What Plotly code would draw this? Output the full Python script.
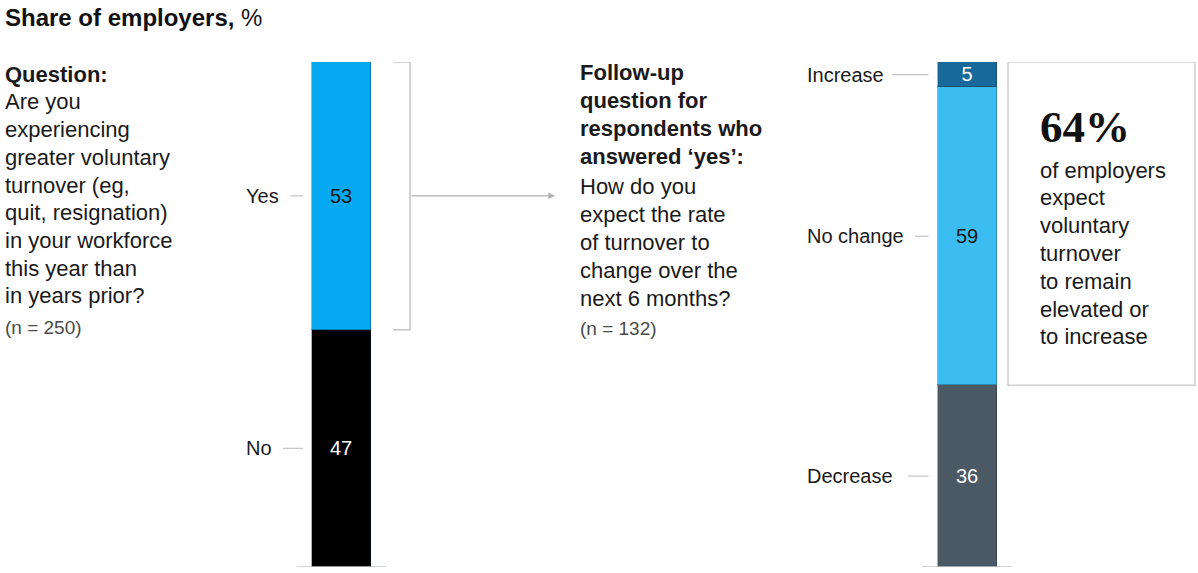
import plotly.graph_objects as go

# ---- data -------------------------------------------------------------
left_categories = ["No", "Yes"]
left_values = [47, 53]
right_categories = ["Decrease", "No change", "Increase"]
right_values = [36, 59, 5]
left_n = 250
right_n = 132

# ---- styling ------------------------------------------------------------
W, H = 1198, 573
SANS = "Liberation Sans, Arial, sans-serif"
SERIF = "Liberation Serif, Times New Roman, serif"
INK = "#1a1a1a"
RULE = "#c4c4c4"

left_colors = ["#000000", "#04a9f1"]
left_text_colors = ["#ffffff", "#1a1a1a"]
right_colors = ["#4b5965", "#3bbdf1", "#17699a"]
right_text_colors = ["#ffffff", "#1a1a1a", "#ffffff"]

LEFT_X, RIGHT_X, BAR_W = 341.5, 967, 59
# start of the connector line after each category label
left_conn_start = {"Yes": 290, "No": 283}
right_conn_start = {"Increase": 892, "No change": 915, "Decrease": 908}


def py(y):
    """pixel row -> paper fraction"""
    return 1 - y / H


fig = go.Figure()


def add_stack(xpos, cats, vals, colors, tcolors):
    for c, v, col, tc in zip(cats, vals, colors, tcolors):
        fig.add_trace(go.Bar(
            x=[xpos], y=[v], width=BAR_W, name=c,
            marker=dict(color=col, line=dict(color="rgba(20,35,50,0.35)", width=1)),
            text=[str(v)], textposition="inside", insidetextanchor="middle",
            textangle=0, constraintext="none",
            textfont=dict(family=SANS, size=20, color=tc),
            hoverinfo="skip", showlegend=False,
        ))


add_stack(LEFT_X, left_categories, left_values, left_colors, left_text_colors)
add_stack(RIGHT_X, right_categories, right_values, right_colors, right_text_colors)

shapes = []
annotations = []


def label_block(xpos, cats, vals, label_x, conn_start):
    cum = 0
    for c, v in zip(cats, vals):
        mid = cum + v / 2
        cum += v
        annotations.append(dict(
            x=label_x, y=mid, xref="x", yref="y", text=c, showarrow=False,
            xanchor="left", yanchor="middle",
            font=dict(family=SANS, size=20, color=INK)))
        shapes.append(dict(
            type="line", xref="x", yref="y",
            x0=conn_start[c], x1=xpos - BAR_W / 2 - 9, y0=mid, y1=mid,
            line=dict(color=RULE, width=1.2)))
    # baseline tick under the bar
    shapes.append(dict(type="line", xref="x", yref="y",
                       x0=xpos - 45, x1=xpos + 45, y0=0, y1=0,
                       line=dict(color=RULE, width=1.5)))


label_block(LEFT_X, left_categories, left_values, 244, left_conn_start)
label_block(RIGHT_X, right_categories, right_values, 805, right_conn_start)

# bracket around the "Yes" share and arrow to the follow-up question
yes_top = sum(left_values)
yes_bottom = left_values[0]
yes_mid = yes_bottom + left_values[1] / 2
shapes.append(dict(
    type="path", xref="x", yref="y",
    path=f"M 393,{yes_top} L 410,{yes_top} L 410,{yes_bottom} L 393,{yes_bottom}",
    line=dict(color=RULE, width=1.5)))
annotations.append(dict(
    x=555, y=yes_mid, ax=410, ay=yes_mid, xref="x", yref="y",
    axref="x", ayref="y", text="", showarrow=True,
    arrowhead=2, arrowsize=1.1, arrowwidth=1.2, arrowcolor="#b0b0b0", standoff=0))

# callout box spanning "No change" + "Increase"
elevated = right_values[1] + right_values[2]
shapes.append(dict(
    type="rect", xref="x", yref="y",
    x0=1008, x1=1195, y0=right_values[0], y1=sum(right_values),
    line=dict(color="#cfcfcf", width=1.5), fillcolor="rgba(0,0,0,0)"))


def text_lines(x, lines, y0, step, size=22, bold=False, color=INK):
    for i, t in enumerate(lines):
        annotations.append(dict(
            x=x, y=py(y0 + i * step), xref="x", yref="paper",
            text=f"<b>{t}</b>" if bold else t, showarrow=False,
            xanchor="left", yanchor="middle",
            font=dict(family=SANS, size=size, color=color)))


# title
annotations.append(dict(
    x=3, y=py(17), xref="x", yref="paper",
    text="<b>Share of employers,</b> %", showarrow=False,
    xanchor="left", yanchor="middle",
    font=dict(family=SANS, size=24, color="#111111")))

# first question
text_lines(3, ["Question:"], 74, 0, bold=True)
text_lines(3, ["Are you", "experiencing", "greater voluntary", "turnover (eg,",
               "quit, resignation)", "in your workforce", "this year than",
               "in years prior?"], 102, 27.7)
text_lines(3, [f"(n = {left_n})"], 327, 0, size=19, color="#4a4a4a")

# follow-up question
text_lines(578, ["Follow-up", "question for", "respondents who",
                 "answered \u2018yes\u2019:"], 72, 28.2, bold=True)
text_lines(578, ["How do you", "expect the rate", "of turnover to",
                 "change over the", "next 6 months?"], 186, 28.1)
text_lines(578, [f"(n = {right_n})"], 328, 0, size=19, color="#4a4a4a")

# callout text
annotations.append(dict(
    x=1038, y=py(127), xref="x", yref="paper",
    text=f"<b>{elevated}%</b>", showarrow=False,
    xanchor="left", yanchor="middle",
    font=dict(family=SERIF, size=45, color="#111111")))
text_lines(1038, ["of employers", "expect", "voluntary", "turnover",
                  "to remain", "elevated or", "to increase"], 170, 27.8)

fig.update_layout(
    width=W, height=H,
    margin=dict(l=0, r=0, t=0, b=0),
    paper_bgcolor="white", plot_bgcolor="white",
    barmode="stack", bargap=0,
    xaxis=dict(range=[0, W], visible=False, fixedrange=True),
    yaxis=dict(range=[0, 100], domain=[6 / H, 511 / H], visible=False,
               fixedrange=True),
    shapes=shapes, annotations=annotations,
    showlegend=False,
)

fig.write_html("out.html")
